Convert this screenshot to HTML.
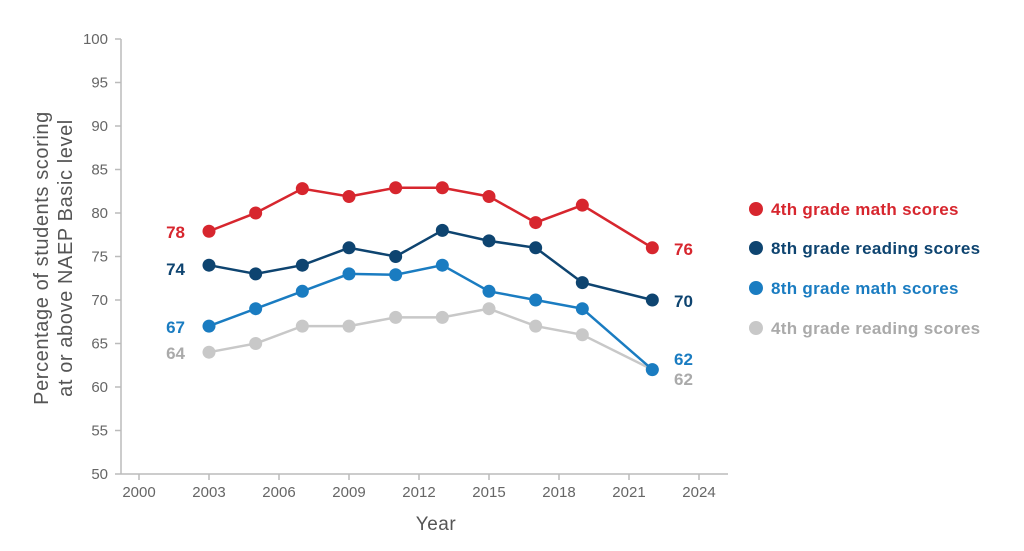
<!DOCTYPE html>
<html><head><style>body{margin:0;background:#fff}svg{display:block}text{font-family:"Liberation Sans",sans-serif}</style></head>
<body>
<svg width="1024" height="551" viewBox="0 0 1024 551" xmlns="http://www.w3.org/2000/svg">
<g stroke="#bbb" stroke-width="1.5" fill="none">
<line x1="121" y1="39" x2="121" y2="474"/>
<line x1="121" y1="474" x2="728" y2="474"/>
</g>
<g id="yt" fill="#666" font-size="15" text-anchor="end"></g>
<g id="xt" fill="#666" font-size="15" text-anchor="middle"></g>
<text x="436" y="530" fill="#555" font-size="19" text-anchor="middle" letter-spacing="0.5">Year</text>
<text transform="translate(48,258) rotate(-90)" fill="#555" font-size="20" letter-spacing="0.6" text-anchor="middle">Percentage of students scoring</text>
<text transform="translate(72,258) rotate(-90)" fill="#555" font-size="20" letter-spacing="0.6" text-anchor="middle">at or above NAEP Basic level</text>
<g id="series"></g>
<g font-size="17" font-weight="bold">
<text x="185" y="238" fill="#d7262e" text-anchor="end">78</text>
<text x="185" y="275" fill="#0e4470" text-anchor="end">74</text>
<text x="185" y="333" fill="#1a7cc1" text-anchor="end">67</text>
<text x="185" y="359" fill="#aaa" text-anchor="end">64</text>
<text x="674" y="255" fill="#d7262e">76</text>
<text x="674" y="307" fill="#0e4470">70</text>
<text x="674" y="365" fill="#1a7cc1">62</text>
<text x="674" y="385" fill="#aaa">62</text>
</g>
<g font-size="17" font-weight="bold" letter-spacing="0.3">
<circle cx="756" cy="209" r="7" fill="#d7262e"/><text x="771" y="215" fill="#d7262e">4th grade math scores</text>
<circle cx="756" cy="248" r="7" fill="#0e4470"/><text x="771" y="254" fill="#0e4470">8th grade reading scores</text>
<circle cx="756" cy="288" r="7" fill="#1a7cc1"/><text x="771" y="294" fill="#1a7cc1">8th grade math scores</text>
<circle cx="756" cy="328" r="7" fill="#c8c8c8"/><text x="771" y="334" fill="#aaa">4th grade reading scores</text>
</g>
</svg>
<script>
const ns="http://www.w3.org/2000/svg";
const X=y=>139+(y-2000)*23.333, Y=v=>474-(v-50)*8.7;
function el(t,a,p){const e=document.createElementNS(ns,t);for(const k in a)e.setAttribute(k,a[k]);p.appendChild(e);return e;}
const yt=document.getElementById('yt'),xt=document.getElementById('xt'),svg=document.querySelector('svg');
for(let v=50;v<=100;v+=5){el('line',{x1:115,x2:121,y1:Y(v),y2:Y(v),stroke:'#bbb','stroke-width':1.5},svg);el('text',{x:108,y:Y(v)+5},yt).textContent=v;}
for(let y=2000;y<=2024;y+=3){el('line',{x1:X(y),x2:X(y),y1:474,y2:480,stroke:'#bbb','stroke-width':1.5},svg);el('text',{x:X(y),y:497},xt).textContent=y;}
const yrs=[2003,2005,2007,2009,2011,2013,2015,2017,2019,2022];
const S=[["#c8c8c8",[64,65,67,67,68,68,69,67,66,62]],["#1a7cc1",[67,69,71,73,72.9,74,71,70,69,62]],["#0e4470",[74,73,74,76,75,78,76.8,76,72,70]],["#d7262e",[77.9,80,82.8,81.9,82.9,82.9,81.9,78.9,80.9,76]]];
const g=document.getElementById('series');
for(const [c,d] of S){el('polyline',{points:d.map((v,i)=>X(yrs[i])+','+Y(v)).join(' '),fill:'none',stroke:c,'stroke-width':2.5},g);
d.forEach((v,i)=>el('circle',{cx:X(yrs[i]),cy:Y(v),r:6.5,fill:c},g));}
</script>
</body></html>
